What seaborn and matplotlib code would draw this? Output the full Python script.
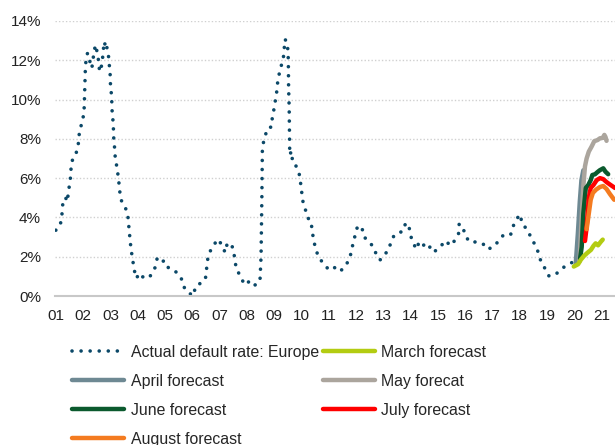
import matplotlib
matplotlib.use("Agg")
import matplotlib.pyplot as plt
import seaborn as sns
from matplotlib.ticker import FuncFormatter

sns.set_style("white")
plt.rcParams["font.family"] = ["Liberation Sans", "DejaVu Sans"]

# --- data (decimal year, default rate %) ---
actual_year = [
    2001.00, 2001.16, 2001.22, 2001.24, 2001.28, 2001.37, 2001.42, 2001.46, 2001.51, 2001.55,
    2001.56, 2001.64, 2001.77, 2001.83, 2001.86, 2001.93, 2002.01, 2002.04, 2002.05, 2002.06,
    2002.07, 2002.08, 2002.10, 2002.16, 2002.23, 2002.28, 2002.32, 2002.37, 2002.40, 2002.47,
    2002.52, 2002.58, 2002.60, 2002.66, 2002.71, 2002.74, 2002.78, 2002.84, 2002.87, 2002.93,
    2002.96, 2002.99, 2003.00, 2003.03, 2003.05, 2003.06, 2003.09, 2003.11, 2003.12, 2003.15,
    2003.17, 2003.22, 2003.27, 2003.31, 2003.34, 2003.39, 2003.55, 2003.64, 2003.67, 2003.70,
    2003.73, 2003.77, 2003.82, 2003.87, 2003.94, 2004.09, 2004.17, 2004.39, 2004.54, 2004.65,
    2004.71, 2004.81, 2004.98, 2005.14, 2005.41, 2005.59, 2005.69, 2005.84, 2006.05, 2006.11,
    2006.30, 2006.48, 2006.52, 2006.55, 2006.62, 2006.77, 2006.92, 2007.09, 2007.20, 2007.27,
    2007.42, 2007.52, 2007.56, 2007.62, 2007.78, 2007.91, 2008.13, 2008.29, 2008.48, 2008.52,
    2008.55, 2008.57, 2008.67, 2008.73, 2008.91, 2008.93, 2009.00, 2009.10, 2009.13, 2009.19,
    2009.34, 2009.37, 2009.40, 2009.48, 2009.51, 2009.52, 2009.53, 2009.55, 2009.56, 2009.57,
    2009.62, 2009.58, 2009.65, 2009.70, 2009.80, 2009.92, 2009.97, 2010.01, 2010.05, 2010.14,
    2010.22, 2010.35, 2010.39, 2010.44, 2010.51, 2010.62, 2010.80, 2010.99, 2011.17, 2011.41,
    2011.62, 2011.78, 2011.84, 2011.93, 2011.99, 2012.07, 2012.22, 2012.29, 2012.47, 2012.61,
    2012.73, 2012.88, 2013.03, 2013.16, 2013.27, 2013.40, 2013.61, 2013.73, 2013.82, 2013.95,
    2014.01, 2014.10, 2014.19, 2014.28, 2014.37, 2014.56, 2014.71, 2014.83, 2015.08, 2015.27,
    2015.47, 2015.63, 2015.76, 2015.78, 2015.91, 2016.02, 2016.15, 2016.32, 2016.64, 2016.81,
    2017.01, 2017.23, 2017.42, 2017.67, 2017.76, 2017.89, 2018.01, 2018.09, 2018.27, 2018.40,
    2018.56, 2018.68, 2018.77, 2018.92, 2019.07, 2019.29, 2019.52, 2019.72, 2019.94,
]
actual_rate = [
    3.35, 3.60, 4.04, 4.50, 4.97, 4.97, 4.80, 5.26, 5.74, 6.16,
    6.64, 7.09, 7.35, 7.80, 8.28, 8.70, 9.16, 9.60, 10.06, 10.50,
    10.99, 11.45, 11.90, 12.36, 12.08, 11.70, 11.60, 12.10, 12.50, 12.78,
    12.32, 11.88, 11.42, 11.60, 12.05, 12.53, 12.95, 12.53, 12.66, 12.22,
    11.76, 11.30, 10.83, 10.37, 9.93, 9.47, 9.00, 8.54, 8.08, 7.60,
    7.16, 6.70, 6.25, 5.79, 5.35, 4.89, 4.50, 4.07, 3.63, 3.18,
    2.72, 2.26, 1.80, 1.36, 0.90, 1.16, 0.98, 0.90, 1.16, 1.49,
    1.90, 1.70, 1.80, 1.40, 1.22, 0.93, 0.47, 0.17, 0.02, 0.47,
    0.65, 0.85, 1.31, 1.77, 2.20, 2.53, 2.89, 2.61, 2.22, 2.61,
    2.70, 2.27, 1.82, 1.36, 0.98, 0.57, 0.78, 0.55, 0.75, 2.00,
    5.00, 7.65, 8.08, 8.50, 8.62, 9.05, 9.56, 10.45, 10.90, 11.34,
    12.15, 12.60, 13.07, 12.87, 12.39, 11.93, 10.57, 9.64, 8.28, 7.40,
    7.50, 6.95, 7.00, 7.00, 6.62, 6.20, 5.74, 5.28, 4.84, 4.43,
    3.99, 3.82, 3.36, 2.90, 2.46, 2.00, 1.66, 1.36, 1.49, 1.24,
    1.54, 1.95, 2.39, 2.85, 3.27, 3.58, 3.46, 3.02, 2.76, 2.55,
    2.17, 1.83, 2.12, 2.26, 2.68, 3.11, 3.24, 3.31, 3.73, 3.46,
    3.02, 2.76, 2.38, 2.63, 2.43, 2.71, 2.48, 2.22, 2.48, 2.82,
    2.56, 2.85, 3.19, 3.67, 3.50, 3.05, 2.76, 2.76, 2.68, 2.38,
    2.48, 2.80, 3.14, 3.14, 3.56, 3.92, 4.16, 3.67, 3.39, 3.02,
    2.60, 2.22, 1.78, 1.41, 1.02, 1.07, 1.36, 1.58, 1.72,
]

march_year = [2019.98, 2020.14, 2020.24, 2020.36, 2020.48, 2020.61, 2020.70, 2020.78, 2020.87, 2020.97, 2021.04]
march_rate = [1.50, 1.62, 1.85, 2.05, 2.20, 2.35, 2.55, 2.68, 2.58, 2.76, 2.87]

april_year = [2020.05, 2020.13, 2020.20, 2020.26, 2020.33]
april_rate = [1.60, 3.20, 4.80, 5.90, 6.40]

may_year = [2020.19, 2020.27, 2020.33, 2020.39, 2020.45, 2020.53, 2020.63, 2020.73, 2020.85, 2020.94, 2021.04, 2021.10, 2021.14, 2021.18]
may_rate = [1.75, 4.00, 5.60, 6.60, 7.00, 7.35, 7.60, 7.88, 7.94, 8.03, 8.05, 8.20, 8.10, 7.90]

june_year = [2020.21, 2020.27, 2020.33, 2020.42, 2020.51, 2020.60, 2020.66, 2020.76, 2020.84, 2020.93, 2021.06, 2021.14, 2021.24]
june_rate = [1.90, 2.50, 4.20, 5.50, 5.65, 5.90, 6.16, 6.20, 6.30, 6.40, 6.50, 6.33, 6.20]

july_year = [2020.39, 2020.45, 2020.53, 2020.60, 2020.70, 2020.82, 2020.94, 2021.06, 2021.18, 2021.30, 2021.49]
july_rate = [2.80, 3.50, 5.00, 5.50, 5.65, 5.90, 6.00, 5.95, 5.80, 5.68, 5.50]

august_year = [2020.45, 2020.51, 2020.60, 2020.68, 2020.80, 2020.94, 2021.06, 2021.18, 2021.30, 2021.46]
august_rate = [3.40, 4.00, 4.90, 5.25, 5.42, 5.55, 5.60, 5.45, 5.20, 4.90]

year_ticks = list(range(2001, 2022))
year_labels = [f"{y % 100:02d}" for y in year_ticks]

# --- figure ---
fig = plt.figure(figsize=(6.15, 4.45), dpi=100)
ax = fig.add_axes([55 / 615, 149 / 445, 560 / 615, 275 / 445])

sns.lineplot(x=actual_year, y=actual_rate, sort=False, estimator=None, ax=ax,
             color="#0b4868", linewidth=2.6, linestyle=(0, (0.01, 2.5)),
             dash_capstyle="round", label="Actual default rate: Europe")
sns.lineplot(x=april_year, y=april_rate, sort=False, estimator=None, ax=ax,
             color="#6e8993", linewidth=3.2, label="April forecast")
sns.lineplot(x=may_year, y=may_rate, sort=False, estimator=None, ax=ax,
             color="#aba59d", linewidth=3.2, label="May forecat")
sns.lineplot(x=june_year, y=june_rate, sort=False, estimator=None, ax=ax,
             color="#0b5a2e", linewidth=3.2, label="June forecast")
sns.lineplot(x=july_year, y=july_rate, sort=False, estimator=None, ax=ax,
             color="#ff0000", linewidth=3.2, label="July forecast")
sns.lineplot(x=august_year, y=august_rate, sort=False, estimator=None, ax=ax,
             color="#f47b20", linewidth=3.2, label="August forecast")
sns.lineplot(x=march_year, y=march_rate, sort=False, estimator=None, ax=ax,
             color="#b3cc12", linewidth=3.2, label="March forecast")

ax.set_xlim(2000.97, 2021.49)
ax.set_ylim(0, 14)
ax.set_yticks(range(0, 15, 2))
ax.yaxis.set_major_formatter(FuncFormatter(lambda v, p: f"{v:.0f}%"))
ax.set_xticks(year_ticks)
ax.set_xticklabels(year_labels)
ax.set_xlabel("")
ax.set_ylabel("")

ax.grid(axis="y", color="#d0d0d0", linestyle=(0, (1, 1.5)), linewidth=1)
ax.grid(axis="x", visible=False)
for s in ["top", "right", "left"]:
    ax.spines[s].set_visible(False)
ax.spines["bottom"].set_color("#c8c8c8")
ax.spines["bottom"].set_linewidth(1.5)
ax.tick_params(axis="both", length=0, labelsize=11, colors="#222222")
ax.tick_params(axis="y", pad=10)
ax.tick_params(axis="x", pad=9.5)

handles, labels = ax.get_legend_handles_labels()
lookup = dict(zip(labels, handles))
order = ["Actual default rate: Europe", "April forecast", "June forecast", "August forecast",
         "March forecast", "May forecat", "July forecast"]
ax.legend([lookup[k] for k in order], order, ncol=2, loc="upper left",
          bbox_to_anchor=(72 / 615, 1 - 345 / 445), bbox_transform=fig.transFigure,
          frameon=False, fontsize=11.4, handlelength=3.3, handletextpad=0.4,
          columnspacing=0.25, labelspacing=0.88, borderpad=0, borderaxespad=0)

fig.savefig("out.png", dpi=100)
